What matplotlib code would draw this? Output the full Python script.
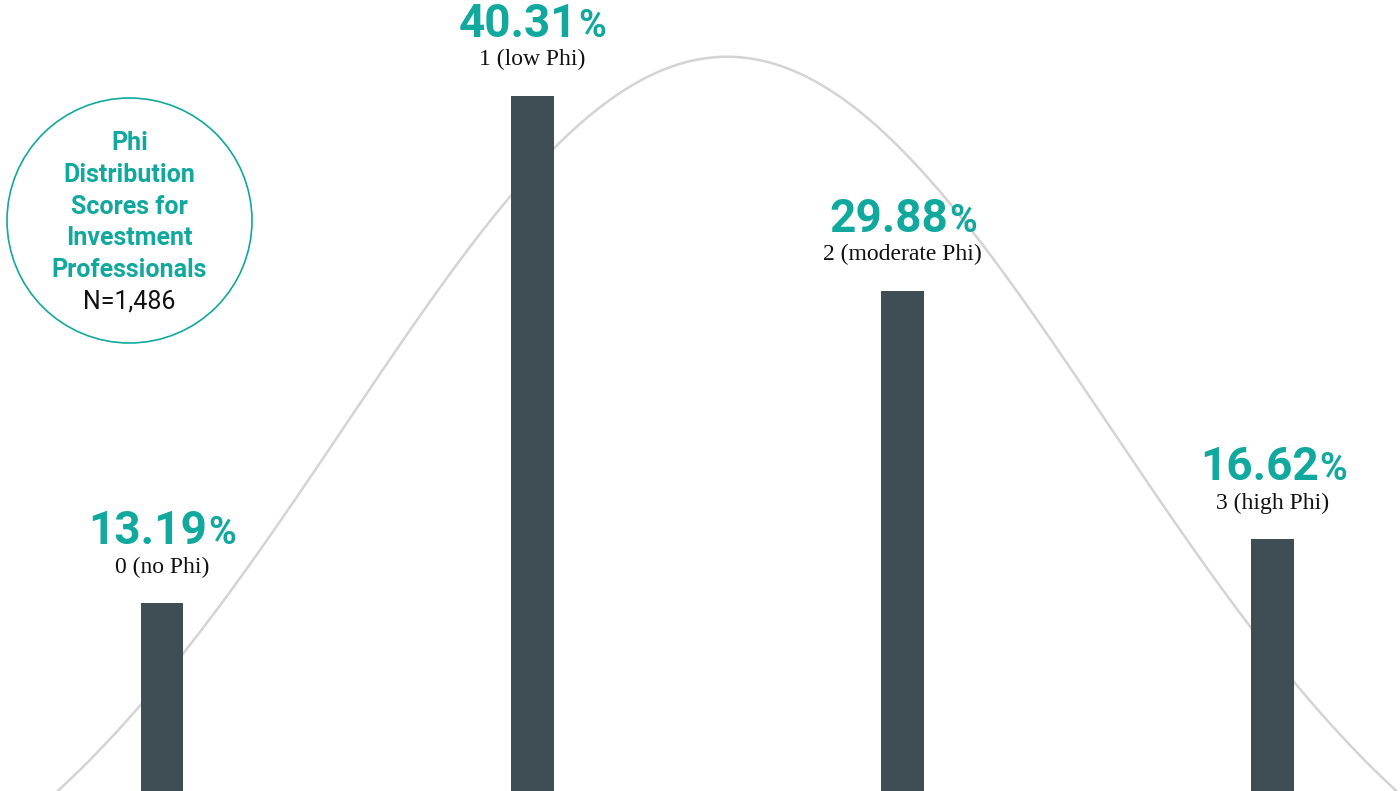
import numpy as np
import matplotlib
matplotlib.use("Agg")
import matplotlib.pyplot as plt
from matplotlib.patches import Circle

# data
categories = ["0 (no Phi)", "1 (low Phi)", "2 (moderate Phi)", "3 (high Phi)"]
values = [13.19, 40.31, 29.88, 16.62]
title_lines = ["Phi", "Distribution", "Scores for", "Investment", "Professionals"]
sample_label = "N=1,486"

# bell curve drawn behind the bars (centre, spread, top, floor)
curve_mu, curve_sigma, curve_top, curve_floor = 1.526, 1.029, 42.4, -7.5

TEAL = "#11a89d"
BAR = "#3f4d54"
CURVE = "#d4d4d4"

fig = plt.figure(figsize=(14, 7.91), dpi=100)
ax = fig.add_axes([0, 0, 1, 1])
ax.set_xlim(-0.4374, 3.343)
ax.set_ylim(3.17, 45.43)
ax.axis("off")

x = np.arange(len(values))
xs = np.linspace(-0.6, 3.5, 400)
ys = curve_floor + (curve_top - curve_floor) * np.exp(-(xs - curve_mu) ** 2 / (2 * curve_sigma ** 2))
ax.plot(xs, ys, color=CURVE, lw=1.8, zorder=1)
ax.bar(x, values, width=0.116, color=BAR, zorder=2)

num_texts = []
for xi, v, cat in zip(x, values, categories):
    ax.annotate(cat, (xi, v), xytext=(0, 22), textcoords="offset points",
                ha="center", va="baseline", fontsize=17, family="Liberation Serif",
                color="#111111")
    t1 = ax.annotate(f"{v:.2f}", (xi, v), xytext=(0, 42.5), textcoords="offset points",
                     ha="left", va="baseline", fontsize=33, family="Roboto",
                     fontweight="bold", color=TEAL)
    t2 = ax.annotate("%", (xi, v), xytext=(0, 42.5), textcoords="offset points",
                     ha="left", va="baseline", fontsize=27, family="Roboto",
                     fontweight="bold", color=TEAL)
    num_texts.append((t1, t2))

# put the smaller % right after the number, centre the pair over the bar
fig.canvas.draw()
r = fig.canvas.get_renderer()
for t1, t2 in num_texts:
    w1 = t1.get_window_extent(r).width
    w2 = t2.get_window_extent(r).width
    start = -(w1 + w2) / 2
    t1.set_position((start * 0.72, 42.5))
    t2.set_position(((start + w1) * 0.72 + 0.5, 42.5))

# circle badge, pixel coords overlay
ov = fig.add_axes([0, 0, 1, 1], zorder=3)
ov.set_xlim(0, 1400)
ov.set_ylim(791, 0)
ov.axis("off")
ov.patch.set_alpha(0)
ov.add_patch(Circle((129.5, 220.5), 122.5, fill=False, ec=TEAL, lw=1.2))
for i, line in enumerate(title_lines):
    ov.text(129.5, 143 + 31.8 * i, line, ha="center", va="center", fontsize=18,
            family="Roboto", fontweight="bold", color=TEAL)
ov.text(129.5, 143 + 31.8 * 5, sample_label, ha="center", va="center", fontsize=18,
        family="Roboto", color="#111111")

fig.savefig("out.png", dpi=100)
